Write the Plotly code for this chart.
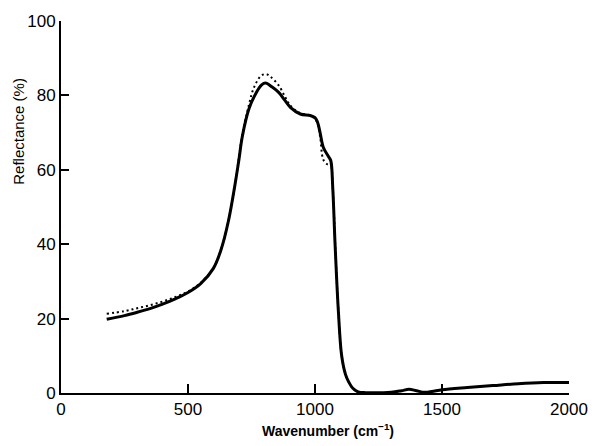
import plotly.graph_objects as go

# measured spectrum (solid)
meas_x = [180, 250, 300, 350, 400, 450, 500, 550, 600, 630, 660, 685, 700, 714, 740, 766,
          790, 805, 830, 857, 880, 903, 942, 981, 1000, 1010, 1020, 1033, 1053, 1062, 1070,
          1079, 1092, 1105, 1120, 1131, 1150, 1170, 1200, 1300, 1340, 1370, 1400, 1431, 1460,
          1500, 1600, 1700, 1800, 1900, 2000]
meas_y = [19.8, 20.8, 21.7, 22.7, 23.9, 25.3, 27.0, 29.4, 33.5, 38.5, 46.5, 56.0, 62.5, 69.0,
          76.4, 80.4, 82.8, 83.3, 82.3, 80.8, 78.8, 76.8, 75.0, 74.6, 74.0, 72.8, 70.0, 66.0,
          63.6, 62.5, 55.0, 40.0, 22.0, 10.0, 5.0, 3.2, 1.2, 0.3, 0.1, 0.2, 0.6, 1.0, 0.6, 0.2,
          0.4, 0.9, 1.5, 2.0, 2.5, 2.8, 2.8]

# calculated spectrum (dotted)
calc_x = [180, 250, 300, 350, 400, 450, 500, 550, 600, 630, 660, 685, 700, 714, 740, 759,
          788, 808, 825, 857, 883, 903, 942, 981, 1007, 1020, 1033, 1050, 1060, 1070, 1080,
          1092, 1105, 1120, 1131, 1150, 1170, 1200]
calc_y = [21.3, 22.0, 22.8, 23.6, 24.6, 25.8, 27.3, 29.6, 33.6, 38.5, 46.5, 56.0, 63.0, 69.5,
          77.5, 82.0, 85.3, 85.7, 85.0, 82.7, 79.5, 77.3, 75.2, 74.6, 73.0, 69.0, 62.7, 61.5,
          62.0, 55.0, 39.0, 22.0, 10.0, 5.0, 3.2, 1.2, 0.3, 0.1]

x_ticks = [0, 500, 1000, 1500, 2000]
y_ticks = [0, 20, 40, 60, 80, 100]

fig = go.Figure()
fig.add_trace(go.Scatter(x=calc_x, y=calc_y, mode="lines", line_shape="spline",
                         line=dict(color="black", width=2, dash="2px,3px"),
                         hoverinfo="skip", showlegend=False))
fig.add_trace(go.Scatter(x=meas_x, y=meas_y, mode="lines", line_shape="spline",
                         line=dict(color="black", width=3),
                         hoverinfo="skip", showlegend=False))

font_tick = dict(family="Liberation Sans, Arial, sans-serif", size=17, color="black")

fig.update_layout(
    width=600, height=446,
    margin=dict(l=61, r=28, t=16, b=53),
    paper_bgcolor="white", plot_bgcolor="white",
    xaxis=dict(range=[0, 2000], tickvals=x_ticks, ticktext=[str(v) for v in x_ticks],
               ticks="inside", ticklen=9, tickwidth=1.5, tickcolor="black",
               showline=True, linecolor="black", linewidth=2, showgrid=False,
               zeroline=False, tickfont=font_tick),
    yaxis=dict(range=[0, 100], tickvals=y_ticks, ticktext=[str(v) for v in y_ticks],
               ticks="inside", ticklen=8, tickwidth=1.5, tickcolor="black",
               showline=True, linecolor="black", linewidth=2, showgrid=False,
               zeroline=False, tickfont=font_tick),
    annotations=[
        dict(text="<b>Wavenumber (cm<sup>−1</sup>)</b>", xref="paper", yref="paper",
             x=(330 - 61) / 511, y=-(431 - 393) / 377, xanchor="center", yanchor="middle",
             showarrow=False, font=dict(family="Liberation Sans, Arial, sans-serif", size=14, color="black")),
        dict(text="Reflectance (%)", xref="paper", yref="paper", textangle=-90,
             x=-(61 - 18) / 511, y=(393 - 128) / 377, xanchor="center", yanchor="middle",
             showarrow=False, font=dict(family="Liberation Sans, Arial, sans-serif", size=15, color="black")),
    ],
)

fig.write_html("out.html")
